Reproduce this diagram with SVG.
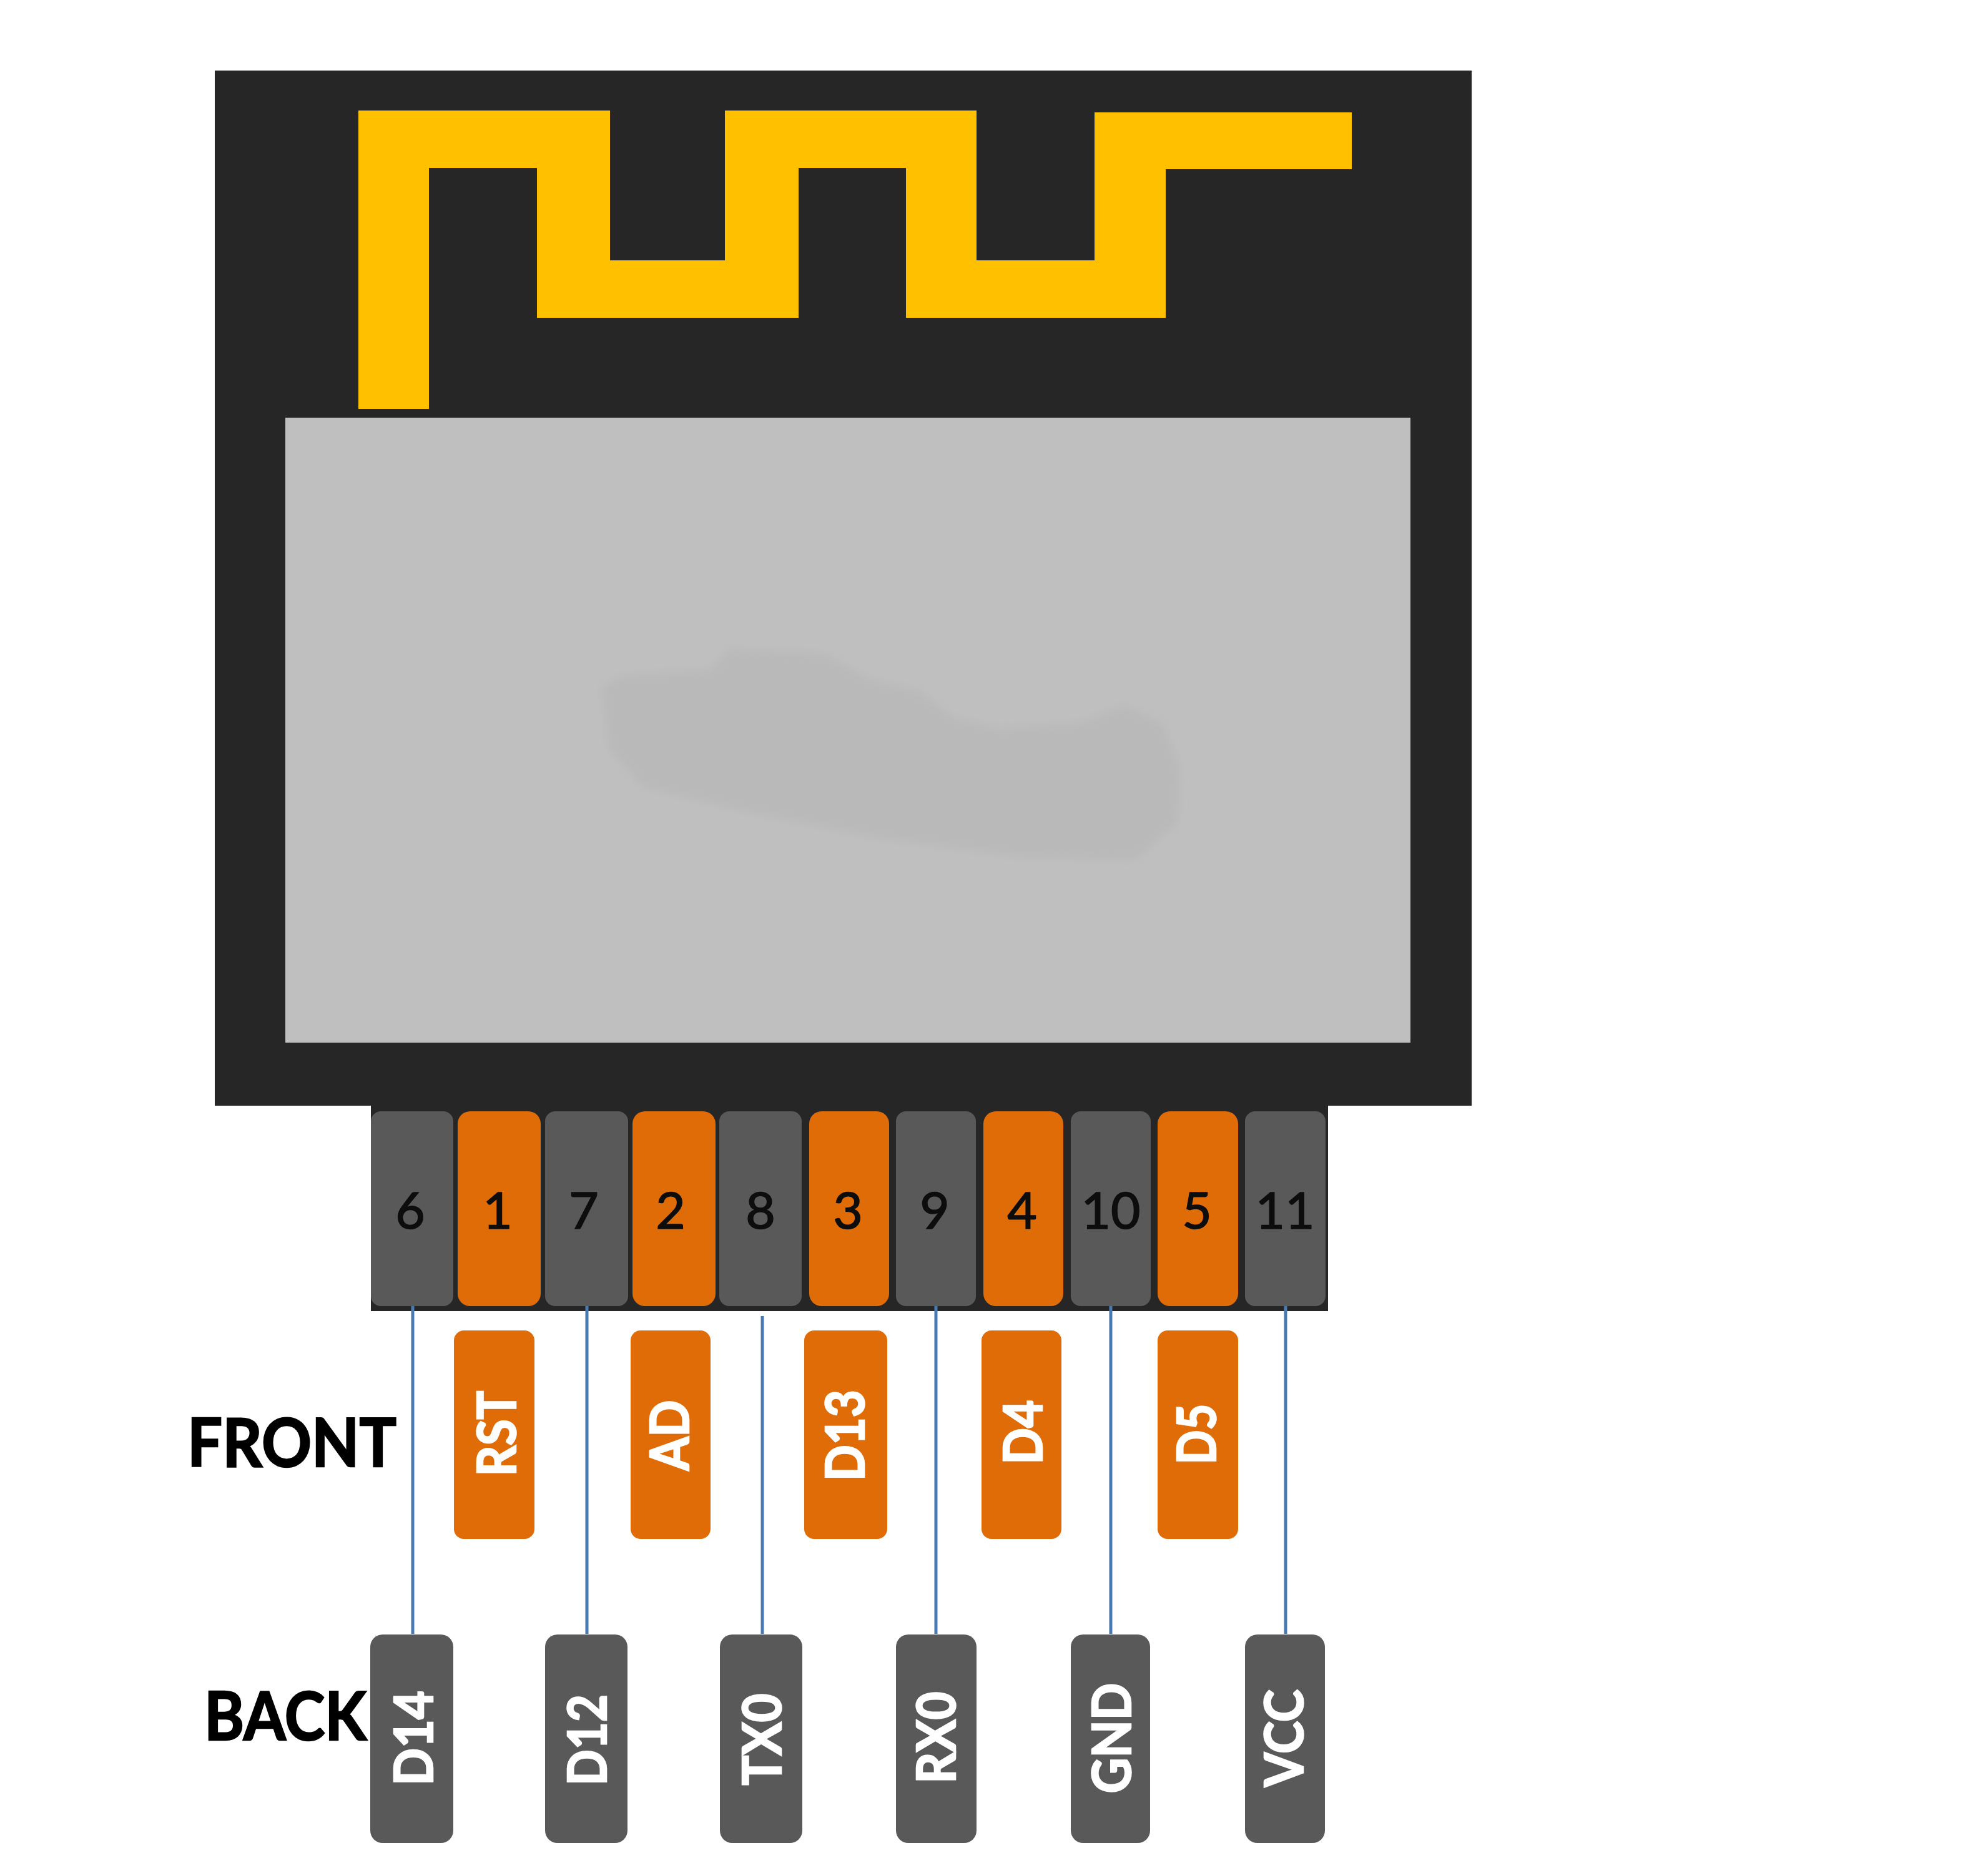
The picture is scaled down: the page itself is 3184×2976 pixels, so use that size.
<svg xmlns="http://www.w3.org/2000/svg" width="3184" height="2976" viewBox="0 0 3184 2976">
<defs>
<style>
.g{fill:#595959}.o{fill:#E06C08}
.n{font:400 82px Lato,"Liberation Sans",sans-serif;fill:#0d0d0d;stroke:#0d0d0d;stroke-width:1.6;text-anchor:middle}
.l{font:700 86px Lato,"Liberation Sans",sans-serif;fill:#fff;stroke:#fff;stroke-width:2.5;text-anchor:middle}
.h{font:700 107px Lato,"Liberation Sans",sans-serif;fill:#000;stroke:#000;stroke-width:2.5}
.c{stroke:#4A7AB2;stroke-width:5;fill:none}
</style>
<filter id="b" x="-10%" y="-10%" width="120%" height="120%"><feGaussianBlur stdDeviation="7"/></filter>
</defs>
<rect width="3184" height="2976" fill="#fff"/>
<g id="board">
<rect x="344" y="113" width="2013" height="1658" fill="#262626"/>
<rect x="594" y="1771" width="1533" height="329" fill="#262626"/>
<path id="antenna" fill="#FFC000" d="M574 177H977V417H1161V177H1564V417H1753V180H2165V271H1867V509H1451V269H1279V509H860V269H687V655H574Z"/>
<rect id="shield" x="457" y="669" width="1802" height="1001" fill="#BFBFBF"/>
<path fill="#B9B9B9" filter="url(#b)" d="M964 1100L999 1082L1137 1073L1167 1040L1320 1047L1397 1090L1473 1107L1527 1150L1603 1167L1733 1157L1802 1130L1863 1160L1890 1233L1886 1317L1818 1377L1642 1373L1412 1343L1182 1297L1030 1260L976 1200Z"/>
</g>
<g id="connectors" class="c">
<path d="M661 2091V2617"/><path d="M940 2091V2617"/><path d="M1221 2108V2617"/><path d="M1499 2091V2617"/><path d="M1779 2091V2617"/><path d="M2059 2091V2617"/>
</g>
<g id="pin6"><rect class="g" x="594" y="1780" width="132" height="312" rx="16"/><text class="n" x="657" y="1968">6</text></g>
<g id="pin1"><rect class="o" x="733" y="1780" width="133" height="312" rx="20"/><text class="n" x="797" y="1968">1</text></g>
<g id="pin7"><rect class="g" x="873" y="1780" width="133" height="312" rx="16"/><text class="n" x="935" y="1968">7</text></g>
<g id="pin2"><rect class="o" x="1013" y="1780" width="133" height="312" rx="20"/><text class="n" x="1074" y="1968">2</text></g>
<g id="pin8"><rect class="g" x="1152" y="1780" width="132" height="312" rx="16"/><text class="n" x="1218" y="1968">8</text></g>
<g id="pin3"><rect class="o" x="1296" y="1780" width="128" height="312" rx="20"/><text class="n" x="1358" y="1968">3</text></g>
<g id="pin9"><rect class="g" x="1435" y="1780" width="128" height="312" rx="16"/><text class="n" x="1497" y="1968">9</text></g>
<g id="pin4"><rect class="o" x="1575" y="1780" width="128" height="312" rx="20"/><text class="n" x="1637" y="1968">4</text></g>
<g id="pin10"><rect class="g" x="1715" y="1780" width="128" height="312" rx="16"/><text class="n" x="1779" y="1968">10</text></g>
<g id="pin5"><rect class="o" x="1854" y="1780" width="129" height="312" rx="20"/><text class="n" x="1917" y="1968">5</text></g>
<g id="pin11"><rect class="g" x="1994" y="1780" width="129" height="312" rx="16"/><text class="n" x="2058" y="1968">11</text></g>
<g id="front-rst"><rect class="o" x="727" y="2131" width="129" height="334" rx="16"/><text class="l" transform="translate(826 2296) rotate(-90)" textLength="137" lengthAdjust="spacingAndGlyphs">RST</text></g>
<g id="front-ad"><rect class="o" x="1010" y="2131" width="128" height="334" rx="16"/><text class="l" transform="translate(1103 2299) rotate(-90)" textLength="113" lengthAdjust="spacingAndGlyphs">AD</text></g>
<g id="front-d13"><rect class="o" x="1288" y="2131" width="133" height="334" rx="16"/><text class="l" transform="translate(1384 2299) rotate(-90)" textLength="146" lengthAdjust="spacingAndGlyphs">D13</text></g>
<g id="front-d4"><rect class="o" x="1572" y="2131" width="128" height="334" rx="16"/><text class="l" transform="translate(1669 2294) rotate(-90)" textLength="103" lengthAdjust="spacingAndGlyphs">D4</text></g>
<g id="front-d5"><rect class="o" x="1854" y="2131" width="129" height="334" rx="16"/><text class="l" transform="translate(1947 2297) rotate(-90)" textLength="97" lengthAdjust="spacingAndGlyphs">D5</text></g>
<g id="back-d14"><rect class="g" x="593" y="2618" width="133" height="334" rx="20"/><text class="l" transform="translate(693 2784) rotate(-90)" textLength="152" lengthAdjust="spacingAndGlyphs">D14</text></g>
<g id="back-d12"><rect class="g" x="873" y="2618" width="132" height="334" rx="20"/><text class="l" transform="translate(971 2787) rotate(-90)" textLength="146" lengthAdjust="spacingAndGlyphs">D12</text></g>
<g id="back-tx0"><rect class="g" x="1153" y="2618" width="132" height="334" rx="20"/><text class="l" transform="translate(1251 2786) rotate(-90)" textLength="147" lengthAdjust="spacingAndGlyphs">TX0</text></g>
<g id="back-rx0"><rect class="g" x="1435" y="2618" width="129" height="334" rx="20"/><text class="l" transform="translate(1530 2783) rotate(-90)" textLength="147" lengthAdjust="spacingAndGlyphs">RX0</text></g>
<g id="back-gnd"><rect class="g" x="1715" y="2618" width="127" height="334" rx="20"/><text class="l" transform="translate(1811 2784) rotate(-90)" textLength="177" lengthAdjust="spacingAndGlyphs">GND</text></g>
<g id="back-vcc"><rect class="g" x="1994" y="2618" width="128" height="334" rx="20"/><text class="l" transform="translate(2087 2784) rotate(-90)" textLength="156" lengthAdjust="spacingAndGlyphs">VCC</text></g>
<text class="h" x="300" y="2349" textLength="335" lengthAdjust="spacingAndGlyphs">FRONT</text>
<text class="h" x="327" y="2787" textLength="260" lengthAdjust="spacingAndGlyphs">BACK</text>
</svg>
